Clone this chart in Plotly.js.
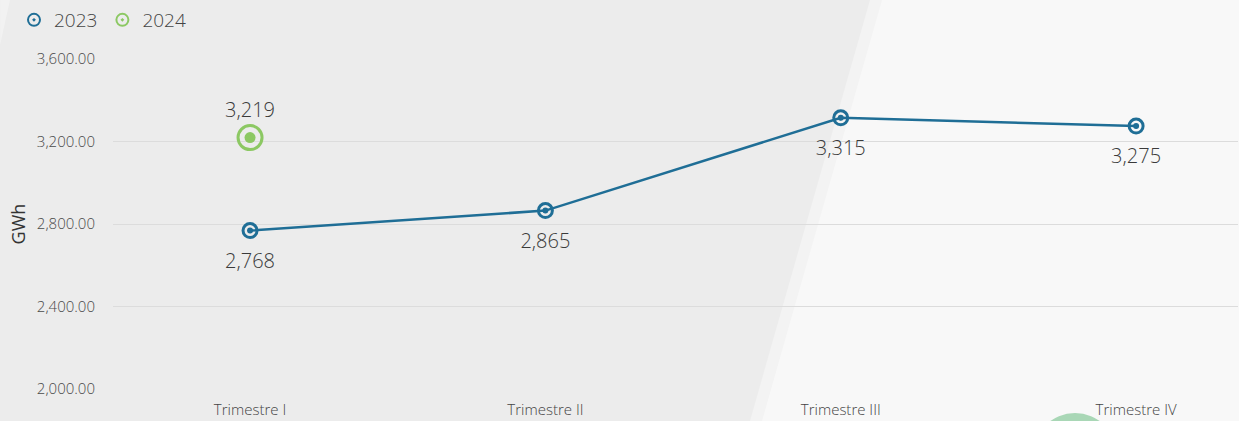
<!DOCTYPE html>
<html>
<head>
<meta charset="utf-8">
<script src="https://cdn.plot.ly/plotly-3.0.1.min.js"></script>
<style>html,body{margin:0;padding:0;background:#f8f8f8;}#chart{width:1239px;height:421px;}</style>
</head>
<body>
<div id="chart"></div>
<script>
// ---- data ----
const categories = ["Trimestre I", "Trimestre II", "Trimestre III", "Trimestre IV"];
const values2023 = [2768, 2865, 3315, 3275];
const categories2024 = ["Trimestre I"];
const values2024 = [3219];
const labels2023 = ["2,768", "2,865", "3,315", "3,275"];
const labels2024 = ["3,219"];
const yTicks = [2000, 2400, 2800, 3200, 3600];

const BLUE = "#1f6e96";
const GREEN = "#8cc863";
const FONT = "Open Sans, sans-serif";

// plot area in pixels: left 113, right 1238, top 59, bottom 389
const L = 113, R = 1238, T = 59, B = 389;
const px = x => (x - L) / (R - L);
const py = y => (B - y) / (B - T);
function poly(pts) {
  return "M" + pts.map(p => px(p[0]).toFixed(4) + "," + py(p[1]).toFixed(4)).join(" L") + " Z";
}

const labelFont = { family: FONT, size: 20, color: "#3a3a3a", weight: 300 };

const traces = [
  { // 2023 line
    x: categories, y: values2023, type: "scatter", mode: "lines",
    line: { color: BLUE, width: 2.5 }, showlegend: false, hoverinfo: "skip"
  },
  { // 2023 labels (invisible spacer markers)
    x: categories, y: values2023, type: "scatter", mode: "markers+text",
    marker: { size: 34, color: "rgba(0,0,0,0)" },
    text: labels2023, textposition: "bottom center", textfont: labelFont,
    showlegend: false, hoverinfo: "skip"
  },
  { // 2023 inner dot
    x: categories, y: values2023, type: "scatter", mode: "markers",
    marker: { symbol: "circle", size: 6, color: BLUE }, showlegend: false, hoverinfo: "skip"
  },
  { // 2023 ring
    x: categories, y: values2023, type: "scatter", mode: "markers",
    name: "2023",
    marker: { symbol: "circle-open-dot", size: 14, color: BLUE, line: { color: BLUE, width: 3 } }
  },
  { // 2024 inner dot
    x: categories2024, y: values2024, type: "scatter", mode: "markers",
    marker: { symbol: "circle", size: 11, color: GREEN }, showlegend: false, hoverinfo: "skip"
  },
  { // 2024 ring + label
    x: categories2024, y: values2024, type: "scatter", mode: "markers+text",
    name: "2024",
    marker: { symbol: "circle-open-dot", size: 24, color: GREEN, line: { color: GREEN, width: 3 } },
    text: labels2024, textposition: "top center", textfont: labelFont
  }
];

const layout = {
  width: 1239, height: 421,
  margin: { l: L, r: 1239 - R, t: T, b: 421 - B, pad: 0 },
  paper_bgcolor: "#f8f8f8",
  plot_bgcolor: "rgba(0,0,0,0)",
  font: { family: FONT, color: "#555" },
  showlegend: true,
  legend: {
    orientation: "h", x: px(14), y: py(1), xanchor: "left", yanchor: "top",
    font: { family: FONT, size: 19, color: "#444", weight: 300 },
    itemsizing: "constant", bgcolor: "rgba(0,0,0,0)", traceorder: "normal",
    itemwidth: 30
  },
  xaxis: {
    type: "category",
    categoryorder: "array", categoryarray: categories,
    range: [-0.464, 3.345],
    showgrid: false, zeroline: false, showline: false,
    ticks: "outside", ticklen: 7, tickcolor: "rgba(0,0,0,0)",
    tickfont: { family: FONT, size: 15, color: "#444", weight: 300 },
    fixedrange: true
  },
  yaxis: {
    range: [2000, 3600],
    tickvals: yTicks,
    tickformat: ",.2f",
    showgrid: true, gridcolor: "#dcdcdc", gridwidth: 1,
    zeroline: false, showline: false,
    ticks: "outside", ticklen: 14, tickcolor: "rgba(0,0,0,0)",
    tickfont: { family: FONT, size: 15, color: "#4a4a4a", weight: 300 },
    title: { text: "GWh", font: { family: FONT, size: 18, color: "#333" }, standoff: 6 },
    fixedrange: true
  },
  shapes: [
    { type: "path", xref: "paper", yref: "paper", layer: "below",
      path: poly([[0,0],[882,0],[762,421],[0,421]]),
      fillcolor: "#f3f3f3", line: { width: 0 } },
    { type: "path", xref: "paper", yref: "paper", layer: "below",
      path: poly([[0,0],[870,0],[750,421],[0,421]]),
      fillcolor: "#ececec", line: { width: 0 } },
    { type: "path", xref: "paper", yref: "paper", layer: "below",
      path: poly([[0,0],[10,0],[0,45]]),
      fillcolor: "#f2f2f2", line: { width: 0 } },
    { type: "circle", xref: "paper", yref: "paper", layer: "below",
      x0: px(1033), x1: px(1117), y0: py(497), y1: py(413),
      fillcolor: "#a9d7b6", line: { width: 0 } }
  ]
};

Plotly.newPlot("chart", traces, layout, { displayModeBar: false, staticPlot: true });
</script>
</body>
</html>
